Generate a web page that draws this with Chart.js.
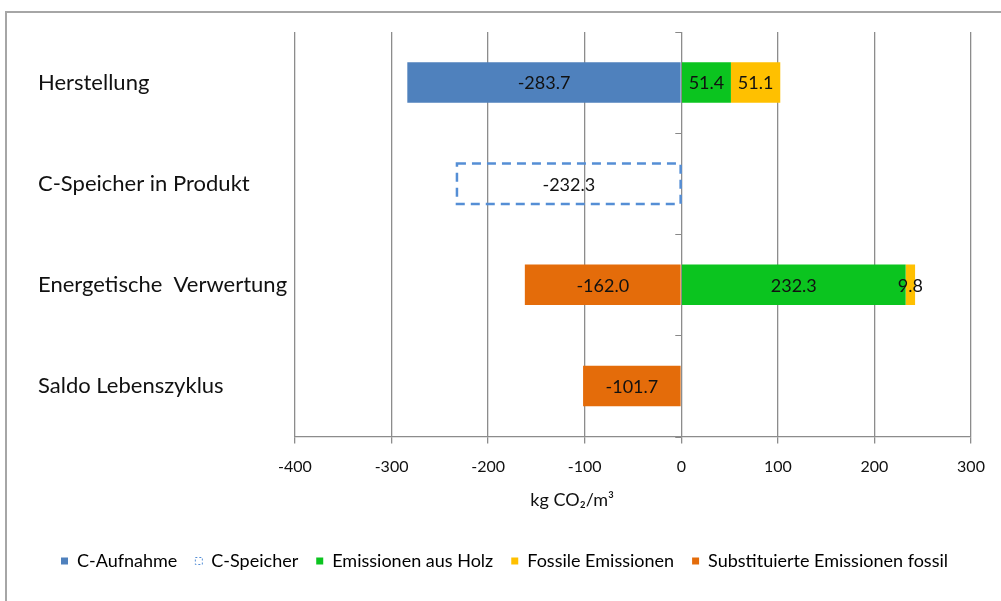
<!DOCTYPE html>
<html>
<head>
<meta charset="utf-8">
<script src="https://cdn.jsdelivr.net/npm/chart.js@4"></script>
<style>
  html, body { margin: 0; padding: 0; background: #fff; overflow: hidden; }
  #wrap { position: relative; width: 1001px; height: 601px; }
  #frame { position: absolute; left: 5px; top: 11px; width: 1100px; height: 700px;
           border-left: 2px solid #a6a6a6; border-top: 2px solid #a6a6a6; pointer-events: none; }
  canvas { position: absolute; left: 0; top: 0; }
</style>
</head>
<body>
<div id="wrap">
  <canvas id="c" width="1001" height="601"></canvas>
  <div id="frame"></div>
</div>
<script>
const categories = ['Herstellung', 'C-Speicher in Produkt', 'Energetische  Verwertung', 'Saldo Lebenszyklus'];
const cAufnahme = [-283.7, null, null, null];
const cSpeicher = [null, -232.3, null, null];
const emissionenHolz = [51.4, null, 232.3, null];
const fossileEmissionen = [51.1, null, 9.8, null];
const substituiert = [null, null, -162.0, -101.7];
const xTicks = [-400, -300, -200, -100, 0, 100, 200, 300];
const xTitle = 'kg CO₂/m³';

const FONT = 'Lato, "Open Sans", "Liberation Sans", sans-serif';

const valueLabels = {
  id: 'valueLabels',
  afterDatasetsDraw(chart) {
    const ctx = chart.ctx;
    ctx.save();
    chart.data.datasets.forEach((ds, di) => {
      const meta = chart.getDatasetMeta(di);
      meta.data.forEach((el, i) => {
        const v = ds.data[i];
        if (v === null || v === undefined) return;
        const { x, y, base, height } = el.getProps(['x', 'y', 'base', 'height'], true);
        if (ds.dashed) {
          ctx.setLineDash([9, 6]);
          ctx.lineWidth = 2.5;
          ctx.strokeStyle = '#558ed5';
          ctx.strokeRect(Math.min(x, base), y - height / 2, Math.abs(x - base), height);
          ctx.setLineDash([]);
        }
        ctx.fillStyle = '#111';
        ctx.font = '18px ' + FONT;
        ctx.textAlign = 'center';
        ctx.textBaseline = 'middle';
        ctx.fillText(v.toFixed(1), (x + base) / 2, y + 1);
      });
    });
    ctx.restore();
  }
};

const catTicks = {
  id: 'catTicks',
  afterDraw(chart) {
    const ctx = chart.ctx;
    const xs = chart.scales.x, ys = chart.scales.y;
    const x0 = xs.getPixelForValue(0);
    ctx.save();
    ctx.strokeStyle = '#888';
    ctx.lineWidth = 1;
    for (let i = 0; i <= categories.length; i++) {
      const py = Math.round(ys.getPixelForValue(i - 0.5)) + 0.5;
      ctx.beginPath();
      ctx.moveTo(x0 - 6, py);
      ctx.lineTo(x0, py);
      ctx.stroke();
    }
    ctx.restore();
  }
};

new Chart(document.getElementById('c'), {
  type: 'bar',
  data: {
    labels: categories,
    datasets: [
      { label: 'C-Aufnahme', data: cAufnahme, backgroundColor: '#4f81bd' },
      { label: 'C-Speicher', data: cSpeicher, backgroundColor: 'rgba(255,255,255,0)', dashed: true },
      { label: 'Emissionen aus Holz', data: emissionenHolz, backgroundColor: '#0bc41f' },
      { label: 'Fossile Emissionen', data: fossileEmissionen, backgroundColor: '#ffc000' },
      { label: 'Substituierte Emissionen fossil', data: substituiert, backgroundColor: '#e46c0a' }
    ]
  },
  options: {
    indexAxis: 'y',
    responsive: false,
    animation: false,
    devicePixelRatio: 1,
    barPercentage: 0.4,
    categoryPercentage: 1,
    layout: { padding: { left: 38, right: 30, top: 32, bottom: 21 } },
    scales: {
      x: {
        stacked: true,
        min: -400, max: 300,
        afterBuildTicks(s) { s.ticks = xTicks.map(v => ({ value: v })); },
        afterFit(s) { s.height = 97.5; },
        grid: { color: '#8c8c8c', lineWidth: 1.3, tickLength: 7 },
        border: { display: true, color: '#8c8c8c', width: 1.3 },
        ticks: { color: '#111', font: { family: FONT, size: 16 }, padding: 14 },
        title: { display: true, text: xTitle + '\u2003'.repeat(9), color: '#111', font: { family: FONT, size: 18 }, padding: { top: 0, bottom: 23 } }
      },
      y: {
        stacked: true,
        afterFit(s) { s.width = 295 - 38; },
        grid: { display: false },
        border: { display: false },
        ticks: { color: '#111', crossAlign: 'far', font: { family: FONT, size: 22 } }
      }
    },
    plugins: {
      tooltip: { enabled: false },
      legend: {
        position: 'bottom',
        labels: {
          color: '#111',
          font: { family: FONT, size: 18 },
          boxWidth: 7, boxHeight: 7,
          padding: 18,
          generateLabels(chart) {
            return chart.data.datasets.map((ds, i) => ({
              text: ds.label,
              fillStyle: ds.dashed ? '#ffffff' : ds.backgroundColor,
              strokeStyle: ds.dashed ? '#558ed5' : ds.backgroundColor,
              lineWidth: ds.dashed ? 1 : 0,
              lineDash: ds.dashed ? [2, 2] : [],
              hidden: false,
              datasetIndex: i
            }));
          }
        }
      }
    }
  },
  plugins: [valueLabels, catTicks]
});
</script>
</body>
</html>
